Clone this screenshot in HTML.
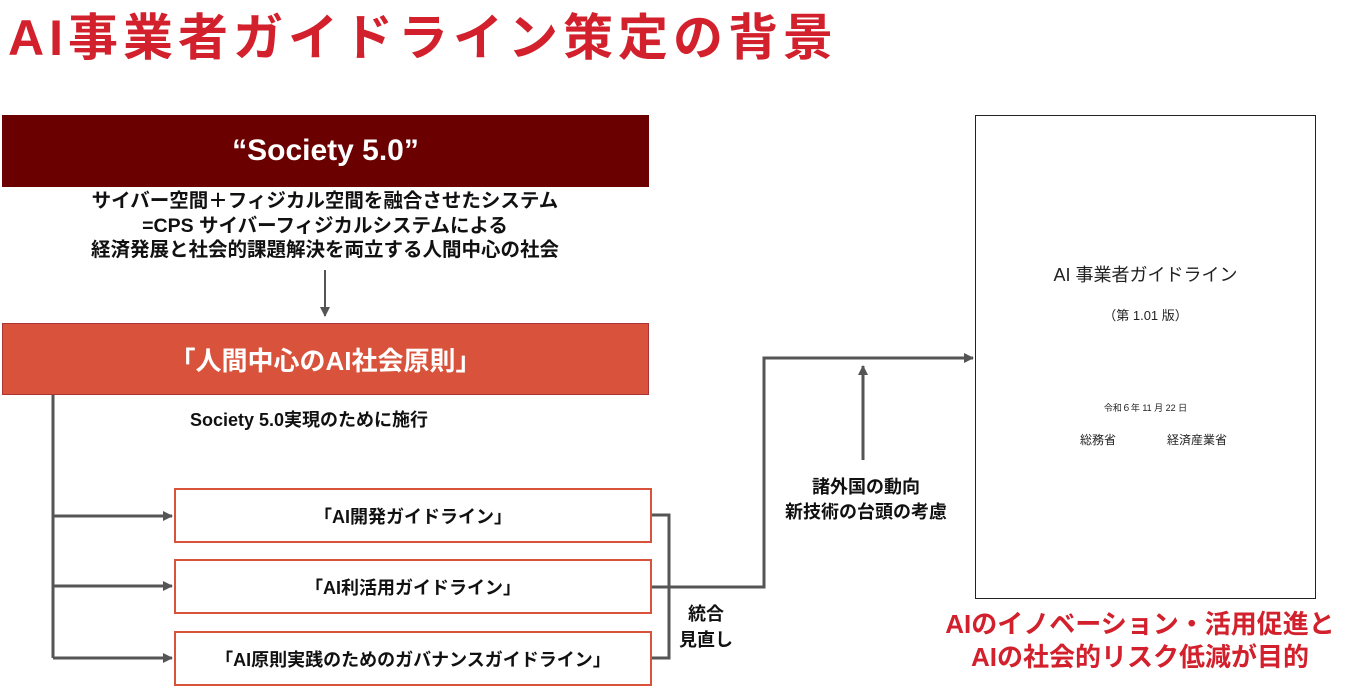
<!DOCTYPE html>
<html><head><meta charset="utf-8"><style>
body{margin:0;width:1367px;height:698px;background:#fff;position:relative;overflow:hidden;font-family:"Liberation Sans","Noto Sans CJK JP",sans-serif;}
.a{position:absolute;white-space:nowrap;}
.c{text-align:center;}
.b{font-weight:bold;}
.box{position:absolute;box-sizing:border-box;display:flex;align-items:center;justify-content:center;font-weight:bold;}
</style></head><body>
<div class="a b" style="left:8px;top:-2px;font-size:50px;color:#d2202c;letter-spacing:5px;">AI事業者ガイドライン策定の背景</div>

<div class="box" style="left:2px;top:115px;width:647px;height:72px;background:#6b0000;color:#fff;font-size:30px;">“Society 5.0”</div>
<div class="a c b" style="left:25px;width:600px;top:189px;font-size:19.5px;line-height:24.5px;color:#111;">サイバー空間＋フィジカル空間を融合させたシステム<br>=CPS サイバーフィジカルシステムによる<br>経済発展と社会的課題解決を両立する人間中心の社会</div>

<div class="box" style="left:2px;top:323px;width:647px;height:72px;background:#d9533c;color:#fff;font-size:26px;border:1px solid #a33;">「人間中心のAI社会原則」</div>
<div class="a b" style="left:190px;top:406px;font-size:18px;color:#111;">Society 5.0実現のために施行</div>

<div class="box" style="left:174px;top:488px;width:478px;height:55px;border:2px solid #d9533c;font-size:18px;color:#111;">「AI開発ガイドライン」</div>
<div class="box" style="left:174px;top:559px;width:478px;height:55px;border:2px solid #d9533c;font-size:18px;color:#111;">「AI利活用ガイドライン」</div>
<div class="box" style="left:174px;top:631px;width:478px;height:55px;border:2px solid #d9533c;font-size:18px;color:#111;">「AI原則実践のためのガバナンスガイドライン」</div>

<svg class="a" style="left:0;top:0" width="1367" height="698">
<defs><marker id="m" markerWidth="10" markerHeight="10" refX="9" refY="5" orient="auto" markerUnits="userSpaceOnUse"><path d="M0,0 L10,5 L0,10z" fill="#555"/></marker></defs>
<g stroke="#555" stroke-width="3" fill="none">
<line x1="325" y1="270" x2="325" y2="316" stroke-width="2" marker-end="url(#m)"/>
<polyline points="53,395 53,658"/>
<line x1="53" y1="516" x2="172" y2="516" marker-end="url(#m)"/>
<line x1="53" y1="586" x2="172" y2="586" marker-end="url(#m)"/>
<line x1="53" y1="658" x2="172" y2="658" marker-end="url(#m)"/>
<polyline points="652,515 669,515 669,658 652,658"/>
<polyline points="652,587 764,587 764,358 973,358" marker-end="url(#m)"/>
<line x1="863" y1="460" x2="863" y2="366" marker-end="url(#m)"/>
</g>
</svg>

<div class="a c b" style="left:746px;width:240px;top:475px;font-size:18px;line-height:25px;color:#111;">諸外国の動向<br>新技術の台頭の考慮</div>
<div class="a c b" style="left:670px;width:72px;top:601px;font-size:18px;line-height:26px;color:#111;">統合<br>見直し</div>

<div class="a" style="left:975px;top:115px;width:341px;height:484px;border:1px solid #222;box-sizing:border-box;"></div>
<div class="a c" style="left:975px;width:341px;top:261px;font-size:18px;color:#222;">AI 事業者ガイドライン</div>
<div class="a c" style="left:975px;width:341px;top:305px;font-size:13px;color:#222;">（第 1.01 版）</div>
<div class="a c" style="left:975px;width:341px;top:401px;font-size:9px;color:#222;">令和６年 11 月 22 日</div>
<div class="a" style="left:1080px;top:431px;font-size:12px;color:#222;">総務省</div>
<div class="a" style="left:1167px;top:431px;font-size:12px;color:#222;">経済産業省</div>

<div class="a c b" style="left:900px;width:480px;top:608px;font-size:26px;line-height:33px;color:#d2202c;">AIのイノベーション・活用促進と<br>AIの社会的リスク低減が目的</div>
</body></html>
